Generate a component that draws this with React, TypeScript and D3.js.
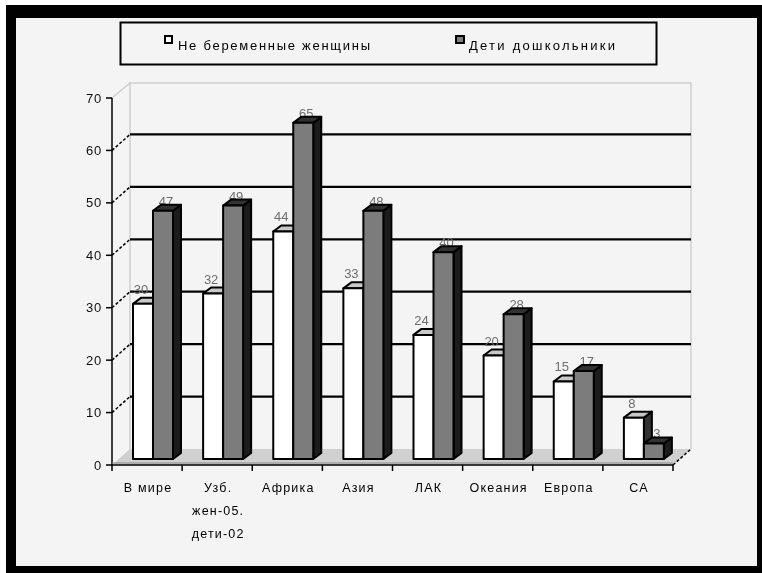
import React from "react";
import * as d3 from "d3";

const categories = [["В мире"], ["Узб.", "жен-05.", "дети-02"], ["Африка"], ["Азия"], ["ЛАК"], ["Океания"], ["Европа"], ["СА"]];
const women = [30, 32, 44, 33, 24, 20, 15, 8];
const children = [48, 49, 65, 48, 40, 28, 17, 3];
const womenLabels = ["30", "32", "44", "33", "24", "20", "15", "8"];
const childrenLabels = ["47", "49", "65", "48", "40", "28", "17", "3"];
const ticks = [0, 10, 20, 30, 40, 50, 60, 70];
const legendNames = ["Не беременные женщины", "Дети дошкольники"];

const FONT = "'Liberation Sans', Arial, sans-serif";

export default function App() {
  const y = d3.scaleLinear().domain([0, 70]).range([465, 98]);
  const yBar = d3.scaleLinear().domain([0, 70]).range([459, 97]);
  const x = d3.scaleBand<number>().domain(d3.range(8)).range([112, 673]);
  const dx = 18, dy = 16;
  const bdx = 8, bdy = 6;
  const bw = 20;
  const line = d3.line();

  const bar = (left: number, v: number, front: string, cap: string, side: string, key: string) => {
    const top = yBar(v), base = yBar(0), r = left + bw;
    return (
      <g key={key} stroke="#000" strokeWidth={2} strokeLinejoin="round">
        <path d={line([[r, top], [r + bdx, top - bdy], [r + bdx, base - bdy], [r, base]]) + "Z"} fill={side} />
        <path d={line([[left, top], [left + bdx, top - bdy], [r + bdx, top - bdy], [r, top]]) + "Z"} fill={cap} />
        <rect x={left} y={top} width={bw} height={base - top} fill={front} />
      </g>
    );
  };

  return (
    <svg width={762} height={573} style={{ position: "absolute", left: 0, top: 0 }} fontFamily={FONT}>
      <defs>
        <filter id="soft" x="0" y="0" width="100%" height="100%">
          <feGaussianBlur stdDeviation="0.7" />
        </filter>
      </defs>
      <rect width={762} height={573} fill="#fff" />
      <g filter="url(#soft)">
        <rect x={6} y={5} width={756} height={568} fill="#000" />
        <rect x={16} y={18} width={741} height={548} fill="#f4f4f4" />

        {/* legend */}
        <rect x={120.5} y={22.5} width={536} height={42} fill="#f4f4f4" stroke="#000" strokeWidth={2} />
        <rect x={165} y={36} width={7} height={7} fill="#fff" stroke="#000" strokeWidth={2} />
        <text x={178} y={50} fontSize={13} fontWeight={500} fill="#000" textLength={192} lengthAdjust="spacing">{legendNames[0]}</text>
        <rect x={456} y={36} width={8} height={7} fill="#808080" stroke="#000" strokeWidth={2} />
        <text x={469} y={50} fontSize={13} fontWeight={500} fill="#000" textLength={146} lengthAdjust="spacing">{legendNames[1]}</text>

        {/* walls and floor */}
        <path d={line([[x(0)!, y(0)], [x(0)! + dx, y(0) - dy], [673 + dx, y(0) - dy], [673, y(0)]]) + "Z"} fill="#d0d0d0" />
        <path d={line([[112, y(70)], [112 + dx, y(70) - dy + 1], [673 + dx, y(70) - dy + 1], [673 + dx, y(0) - dy]])!} fill="none" stroke="#cfcfcf" strokeWidth={1.5} />
        <line x1={130} x2={130} y1={y(70) - dy} y2={y(0) - dy} stroke="#cfcfcf" strokeWidth={1.5} />

        {ticks.slice(1, -1).map((t) => (
          <g key={t}>
            <line x1={112 + dx} x2={673 + dx} y1={y(t) - dy} y2={y(t) - dy} stroke="#000" strokeWidth={2.2} />
            <line x1={112} x2={112 + dx} y1={y(t)} y2={y(t) - dy} stroke="#000" strokeWidth={1.5} strokeDasharray="3 2" />
          </g>
        ))}
        <line x1={673} x2={673 + dx} y1={y(0)} y2={y(0) - dy} stroke="#000" strokeWidth={1.5} strokeDasharray="3 2" />

        {/* axes */}
        <line x1={112} x2={112} y1={y(70)} y2={y(0)} stroke="#000" strokeWidth={1.5} />
        <line x1={112} x2={673} y1={y(0)} y2={y(0)} stroke="#000" strokeWidth={1.5} />
        <line x1={112} x2={673} y1={y(0) - 2} y2={y(0) - 2} stroke="#888" strokeWidth={1} />
        {ticks.map((t) => (
          <g key={t}>
            <line x1={106} x2={112} y1={y(t)} y2={y(t)} stroke="#000" strokeWidth={1.5} />
            <text x={102} y={y(t) + 4.5} textAnchor="end" fontSize={13} letterSpacing={0.8} fill="#111">{t}</text>
          </g>
        ))}
        {d3.range(9).map((i) => {
          const px = 112 + i * x.bandwidth();
          return <line key={i} x1={px} x2={px} y1={y(0)} y2={y(0) + 6} stroke="#000" strokeWidth={1.5} />;
        })}
        {categories.map((lines, i) =>
          lines.map((s, j) => (
            <text key={s} x={x(i)! + x.bandwidth() / 2 + 1} y={492 + j * 23} textAnchor="middle" fontSize={12.5} letterSpacing={1.2} fill="#000">{s}</text>
          ))
        )}

        {/* value labels, drawn under the bars */}
        {categories.map((_, i) => {
          const l = x(i)! + 21;
          return (
            <g key={i} fontSize={13} fill="#6e6e6e" textAnchor="middle">
              <text x={l + 8} y={yBar(women[i]) - bdy - 4}>{womenLabels[i]}</text>
              <text x={l + bw + 13} y={yBar(children[i]) - bdy + 1}>{childrenLabels[i]}</text>
            </g>
          );
        })}

        {/* bars */}
        {categories.map((_, i) => {
          const l = x(i)! + 21;
          return (
            <g key={i}>
              {bar(l, women[i], "#fff", "#c8c8c8", "#333", `w${i}`)}
              {bar(l + bw, children[i], "#7c7c7c", "#333", "#1a1a1a", `c${i}`)}
            </g>
          );
        })}
      </g>
    </svg>
  );
}
